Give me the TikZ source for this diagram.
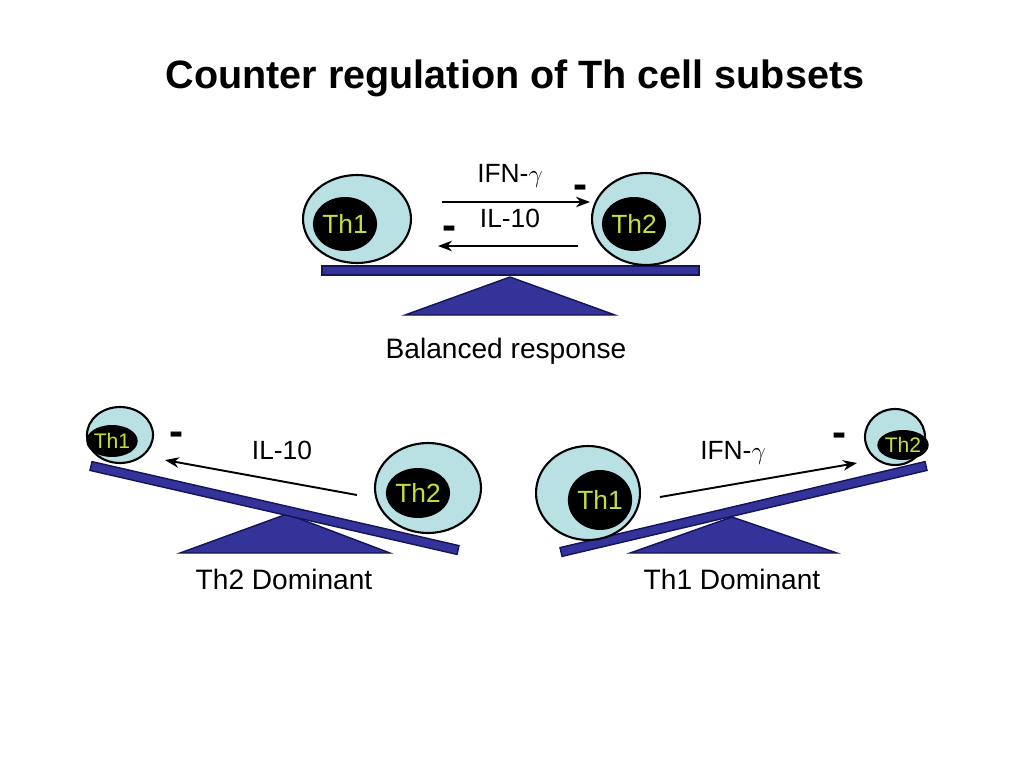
\documentclass[tikz,border=0pt]{standalone}
\usepackage{fontspec}
\setmainfont{Liberation Sans}
\usetikzlibrary{shapes.geometric,arrows.meta}
\definecolor{cellfill}{RGB}{185,225,228}
\definecolor{thgreen}{RGB}{196,222,60}
\definecolor{beamfill}{RGB}{51,51,153}
\definecolor{beamline}{RGB}{20,20,90}
\begin{document}
\begin{tikzpicture}[x=0.02cm,y=-0.02cm,
    cell/.style={ellipse,draw=black,line width=1.2pt,fill=cellfill,inner sep=0pt},
    core/.style={ellipse,fill=black,inner sep=0pt,text=thgreen,font=\fontsize{15}{18}\selectfont},
    smallcore/.style={core,font=\fontsize{12}{14}\selectfont},
    lbl/.style={font=\fontsize{16}{19}\selectfont},
    siglbl/.style={font=\fontsize{15}{18}\selectfont},
    minus/.style={font=\fontsize{24}{26}\selectfont\bfseries,inner sep=0pt},
    beam/.style={draw=beamline,fill=beamfill,line width=0.8pt},
    signal/.style={-{Stealth[length=8pt,width=6pt]},line width=1.1pt}]
  \useasboundingbox (0,0) rectangle (1024,768);
  \node[font=\fontsize{22.5}{26}\selectfont\bfseries] (title) at (515,78) {Counter regulation of Th cell subsets};
  % balanced
  \fill[beam] (405,315) -- (510,277) -- (615,315) -- cycle;
  \draw[beam] (322,266) rectangle (699,275);
  \node[cell,minimum width=2.16cm,minimum height=1.76cm] (th1top) at (357,219) {};
  \node[core,minimum width=1.28cm,minimum height=1.08cm] (th1topcore) at (345,224) {Th1};
  \node[cell,minimum width=2.16cm,minimum height=1.84cm] (th2top) at (646,219) {};
  \node[core,minimum width=1.24cm,minimum height=1.08cm] (th2topcore) at (634,224) {Th2};
  \coordinate (ifnS) at (442,202);
  \coordinate (ifnE) at (590,202);
  \coordinate (ilS) at (578,246);
  \coordinate (ilE) at (438,246);
  \draw[signal] (ifnS) -- (ifnE);
  \draw[signal] (ilS) -- (ilE);
  \node[siglbl] (ifntop) at (510,176) {IFN-$\gamma$};
  \node[siglbl] (iltop) at (510,218) {IL-10};
  \node[minus] (mtop1) at (581,192) {-};
  \node[minus] (mtop2) at (450,233) {-};
  \node[lbl] (balanced) at (506,351) {Balanced response};
  % th2 dominant
  \fill[beam] (180,553) -- (287,514) -- (390,553) -- cycle;
  \draw[beam] (92,461.6) -- (90,470.4) -- (457,554.4) -- (459,545.6) -- cycle;
  \node[cell,minimum width=1.32cm,minimum height=1.12cm] (th1left) at (120,435) {};
  \node[smallcore,minimum width=0.76cm,minimum height=0.64cm] (th1leftcore) at (112,441) {Th1};
  \node[cell,minimum width=2.12cm,minimum height=1.8cm] (th2left) at (428,488) {};
  \node[core,minimum width=1.2cm,minimum height=1.0cm] (th2leftcore) at (418,493) {Th2};
  \coordinate (ilLS) at (357,495);
  \coordinate (ilLE) at (165,460);
  \draw[signal] (ilLS) -- (ilLE);
  \node[siglbl] (illeft) at (282,450) {IL-10};
  \node[minus] (mleft) at (177,439) {-};
  \node[lbl] (th2dom) at (284,579) {Th2 Dominant};
  % th1 dominant
  \fill[beam] (630,553) -- (732,517) -- (837,553) -- cycle;
  \draw[beam] (560,547.6) -- (562,556.4) -- (927,470.4) -- (925,461.6) -- cycle;
  \node[cell,minimum width=2.08cm,minimum height=1.88cm] (th1right) at (588,493) {};
  \node[core,minimum width=1.24cm,minimum height=1.2cm] (th1rightcore) at (600,500) {Th1};
  \node[cell,minimum width=1.2cm,minimum height=1.12cm] (th2right) at (895,437) {};
  \node[smallcore,minimum width=0.8cm,minimum height=0.6cm] (th2rightcore) at (903,445) {Th2};
  \coordinate (ifnRS) at (660,497);
  \coordinate (ifnRE) at (857,463);
  \draw[signal] (ifnRS) -- (ifnRE);
  \node[siglbl] (ifnright) at (733,453) {IFN-$\gamma$};
  \node[minus] (mright) at (840,440) {-};
  \node[lbl] (th1dom) at (732,579) {Th1 Dominant};
\end{tikzpicture}
\end{document}
